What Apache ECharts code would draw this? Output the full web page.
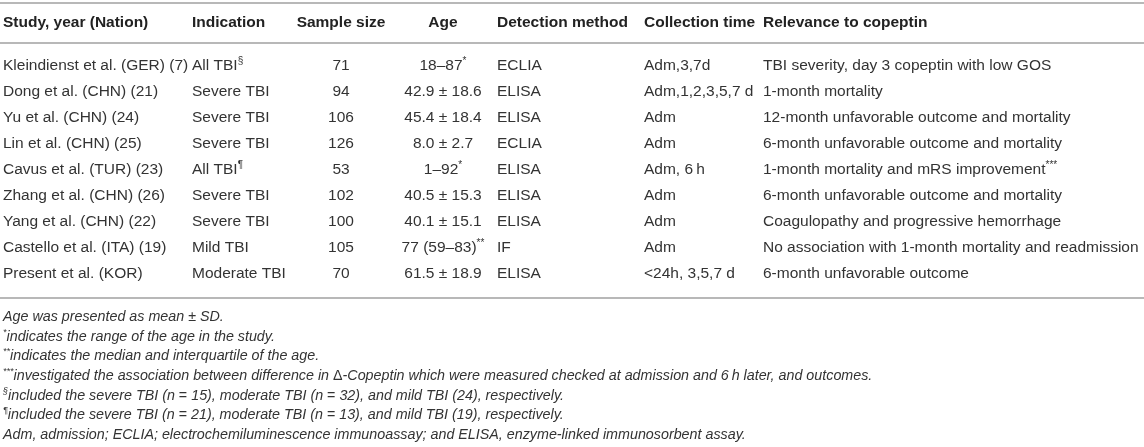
<!DOCTYPE html>
<html>
<head>
<meta charset="utf-8">
<script src="https://cdn.jsdelivr.net/npm/echarts@6/dist/echarts.min.js"></script>
<style>
html,body{margin:0;padding:0;background:#fff;}
#c{width:1144px;height:447px;}
</style>
</head>
<body>
<div id="c"></div>
<script>
// ---------- data ----------
const headers = ['Study, year (Nation)', 'Indication', 'Sample size', 'Age', 'Detection method', 'Collection time', 'Relevance to copeptin'];
const studies = ['Kleindienst et al. (GER)', 'Dong et al. (CHN)', 'Yu et al. (CHN)', 'Lin et al. (CHN)', 'Cavus et al. (TUR)', 'Zhang et al. (CHN)', 'Yang et al. (CHN)', 'Castello et al. (ITA)', 'Present et al. (KOR)'];
const refs = ['7', '21', '24', '25', '23', '26', '22', '19', ''];
const indications = ['All TBI', 'Severe TBI', 'Severe TBI', 'Severe TBI', 'All TBI', 'Severe TBI', 'Severe TBI', 'Mild TBI', 'Moderate TBI'];
const indicationMarks = ['§', '', '', '', '¶', '', '', '', ''];
const sampleSizes = [71, 94, 106, 126, 53, 102, 100, 105, 70];
const ages = ['18–87', '42.9 ± 18.6', '45.4 ± 18.4', '8.0 ± 2.7', '1–92', '40.5 ± 15.3', '40.1 ± 15.1', '77 (59–83)', '61.5 ± 18.9'];
const ageMarks = ['*', '', '', '', '*', '', '', '**', ''];
const methods = ['ECLIA', 'ELISA', 'ELISA', 'ECLIA', 'ELISA', 'ELISA', 'ELISA', 'IF', 'ELISA'];
const collectionTimes = ['Adm,3,7d', 'Adm,1,2,3,5,7 d', 'Adm', 'Adm', 'Adm, 6\u2009h', 'Adm', 'Adm', 'Adm', '<24h, 3,5,7 d'];
const relevance = ['TBI severity, day 3 copeptin with low GOS', '1-month mortality', '12-month unfavorable outcome and mortality', '6-month unfavorable outcome and mortality', '1-month mortality and mRS improvement', '6-month unfavorable outcome and mortality', 'Coagulopathy and progressive hemorrhage', 'No association with 1-month mortality and readmission', '6-month unfavorable outcome'];
const relevanceMarks = ['', '', '', '', '***', '', '', '', ''];
const footnoteMarks = ['', '*', '**', '***', '§', '¶', ''];
const footnotes = [
  'Age was presented as mean {u|±} SD.',
  'indicates the range of the age in the study.',
  'indicates the median and interquartile of the age.',
  'investigated the association between difference in {u|Δ}-Copeptin which were measured checked at admission and 6\u2009h later, and outcomes.',
  'included the severe TBI (n {u|=} 15), moderate TBI (n {u|=} 32), and mild TBI (24), respectively.',
  'included the severe TBI (n {u|=} 21), moderate TBI (n {u|=} 13), and mild TBI (19), respectively.',
  'Adm, admission; ECLIA; electrochemiluminescence immunoassay; and ELISA, enzyme-linked immunosorbent assay.'
];

// ---------- layout (positions / styles) ----------
const W = 1144;
const COL_X = [3, 192, 341, 443, 497, 644, 763];
const COL_ALIGN = ['left', 'left', 'center', 'center', 'left', 'left', 'left'];
const FONT = '"Liberation Sans", Arial, Helvetica, sans-serif';
const TEXT = '#333333';
const RULE = '#b8b8b8';
const FOOT_SIZE = 14.3;

function sup(m) { return m ? '{s|' + m + '}' : ''; }

const cellText = [
  i => studies[i] + (refs[i] ? ' ({r|' + refs[i] + '})' : ''),
  i => indications[i] + sup(indicationMarks[i]),
  i => String(sampleSizes[i]),
  i => ages[i] + sup(ageMarks[i]),
  i => methods[i],
  i => collectionTimes[i],
  i => relevance[i] + sup(relevanceMarks[i])
];

const bodyRich = {
  r: { color: '#8c8c8c', fontSize: 15.5, fontFamily: FONT, lineHeight: 20 },
  s: { fontSize: 10, verticalAlign: 'top', lineHeight: 12, fontFamily: FONT, color: TEXT }
};
const footRich = {
  u: { fontStyle: 'normal', fontSize: FOOT_SIZE, fontFamily: FONT, color: TEXT, lineHeight: 18 },
  s: { fontStyle: 'italic', fontSize: 9, verticalAlign: 'top', lineHeight: 11, fontFamily: FONT, color: TEXT }
};

const bodyData = [];
for (let r = 0; r < studies.length; r++) for (let c = 0; c < headers.length; c++) bodyData.push([c, r]);
const headData = headers.map((h, c) => [c, 0]);
const footData = footnotes.map((f, i) => [0, i]);

const chart = echarts.init(document.getElementById('c'), null, { renderer: 'canvas' });

const xBase = { type: 'value', min: 0, max: W, axisLabel: { show: false }, axisTick: { show: false }, splitLine: { show: false } };
const ruleLine = { show: true, onZero: false, lineStyle: { color: RULE, width: 2 } };

chart.setOption({
  backgroundColor: '#ffffff',
  animation: false,
  grid: [
    { left: 0, right: 0, top: 3, height: 40 },     // header
    { left: 0, right: 0, top: 43, height: 255 },   // body
    { left: 0, right: 0, top: 307, height: 138 }   // footnotes
  ],
  xAxis: [
    Object.assign({}, xBase, { gridIndex: 0, position: 'top', axisLine: ruleLine }),
    Object.assign({}, xBase, { gridIndex: 1, position: 'top', axisLine: ruleLine }),
    Object.assign({}, xBase, { gridIndex: 1, position: 'bottom', axisLine: ruleLine }),
    Object.assign({}, xBase, { gridIndex: 2, show: false })
  ],
  yAxis: [
    { gridIndex: 0, type: 'category', data: ['header'], show: false },
    { gridIndex: 1, type: 'value', inverse: true, min: -0.885, max: 8.923, show: false },
    { gridIndex: 2, type: 'category', data: footnotes.map((f, i) => 'f' + i), inverse: true, show: false }
  ],
  series: [
    {
      type: 'custom', xAxisIndex: 0, yAxisIndex: 0, data: headData, silent: true,
      renderItem: function (params, api) {
        const c = api.value(0);
        const p = api.coord([COL_X[c], 'header']);
        return {
          type: 'text', x: p[0], y: p[1],
          style: { text: headers[c], fill: '#222', font: 'bold 15.5px ' + FONT, align: COL_ALIGN[c], verticalAlign: 'middle' }
        };
      }
    },
    {
      type: 'custom', xAxisIndex: 1, yAxisIndex: 1, data: bodyData, silent: true,
      renderItem: function (params, api) {
        const c = api.value(0), r = api.value(1);
        const p = api.coord([COL_X[c], r]);
        return {
          type: 'text', x: p[0], y: p[1],
          style: {
            text: cellText[c](r), fill: TEXT, fontSize: 15.5, fontFamily: FONT, lineHeight: 20,
            align: COL_ALIGN[c], verticalAlign: 'middle', rich: bodyRich
          }
        };
      }
    },
    {
      type: 'custom', xAxisIndex: 3, yAxisIndex: 2, data: footData, silent: true,
      renderItem: function (params, api) {
        const i = api.value(1);
        const p = api.coord([COL_X[0], 'f' + i]);
        return {
          type: 'text', x: p[0], y: p[1],
          style: {
            text: sup(footnoteMarks[i]) + footnotes[i], fill: TEXT, fontSize: FOOT_SIZE, fontStyle: 'italic', fontFamily: FONT, lineHeight: 18,
            align: 'left', verticalAlign: 'middle', rich: footRich
          }
        };
      }
    }
  ]
});
</script>
</body>
</html>
